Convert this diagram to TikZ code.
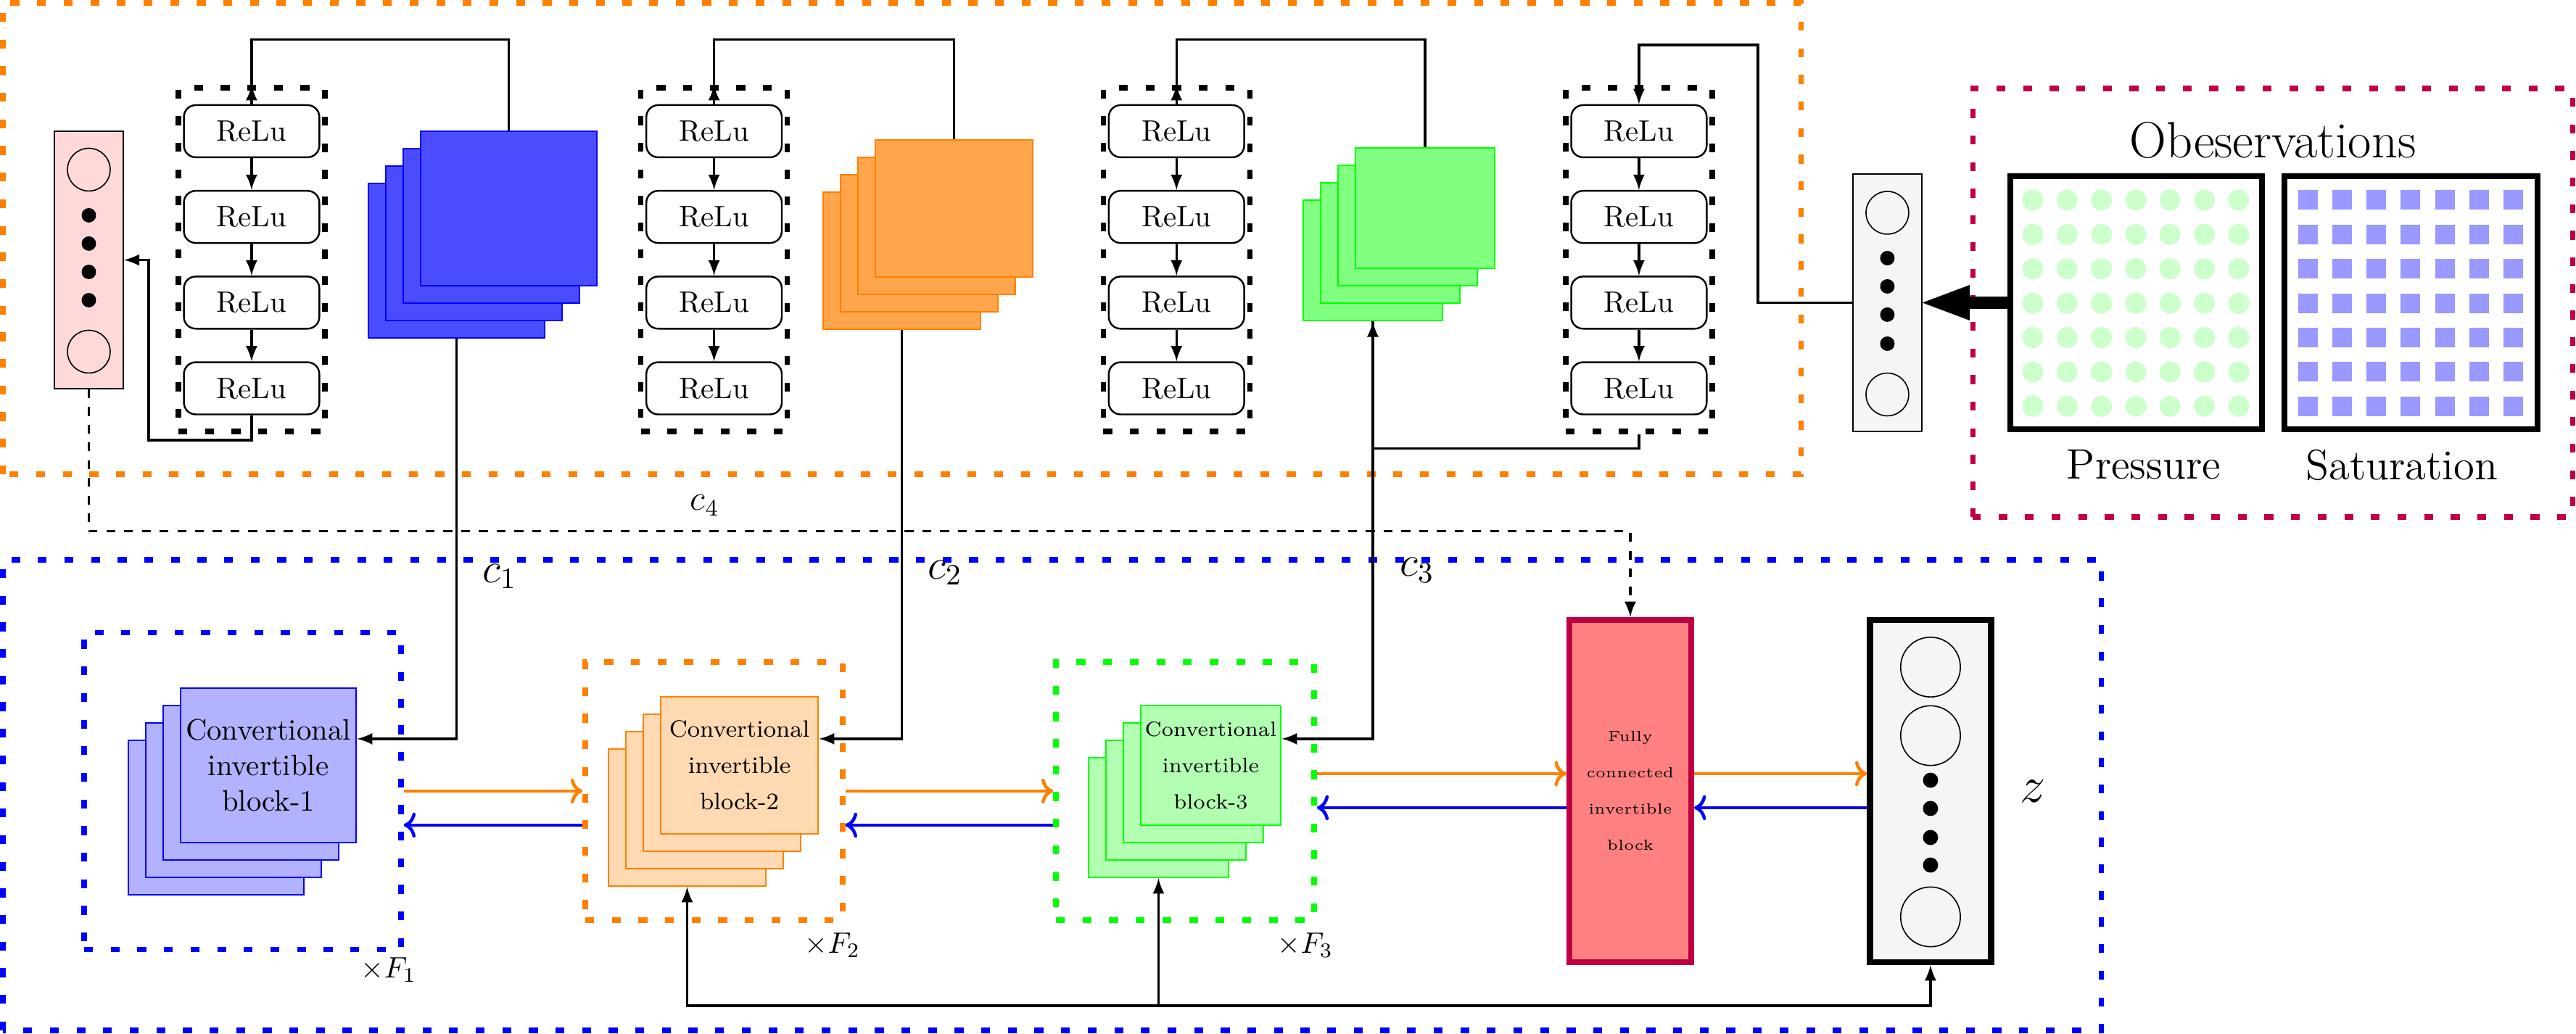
\documentclass[tikz,border=0pt]{standalone}
\usepackage{amsmath}
\usetikzlibrary{arrows.meta}

\begin{document}
\begin{tikzpicture}
[relu/.style={draw,semithick,rounded corners=4pt,minimum width=1.61cm,minimum height=0.62cm,inner sep=0pt},
dotbox/.style={draw,line width=1.8pt,dash pattern=on 3pt off 6pt,inner sep=0pt},
sheet/.style={draw,semithick,inner sep=0pt},
vecbox/.style={draw,minimum width=0.819cm,minimum height=3.06cm,inner sep=0pt},
bigbox/.style={draw,line width=2pt,inner sep=0pt},
flow/.style={->,line width=1.1pt},
wire/.style={thick}]
\useasboundingbox (0,0) rectangle (30.621,12.293);
\draw[dotbox,orange] (0.035,6.655) rectangle (21.41,12.259);
\draw[dotbox,purple] (23.45,6.146) rectangle (30.58,11.241);
\draw[dotbox,blue] (0.035,0.043) rectangle (24.98,5.638);
\node[vecbox,fill=red!15] (xout) at (1.056,9.202) {};
\node[vecbox,fill=black!4] (xin) at (22.435,8.694) {};
\foreach \y in {10.276,8.112} \draw (1.056,\y) circle (0.254);
\foreach \y in {9.733,9.397,9.060,8.724} \fill (1.056,\y) circle (0.086);
\foreach \y in {9.763,7.603} \draw (22.435,\y) circle (0.254);
\foreach \y in {9.224,8.888,8.552,8.207} \fill (22.435,\y) circle (0.086);
\foreach \c/\x in {1/2.991,2/8.488,3/13.985,4/19.482} {
\node[dotbox,minimum width=1.741cm,minimum height=4.086cm] (box\c) at (\x,9.207) {};
\foreach \i/\y in {1/10.733,2/9.714,3/8.695,4/7.676}
\node[relu] (r\c\i) at (\x,\y) {ReLu};
\foreach \i/\j in {1/2,2/3,3/4}
\draw[thick,-latex] (r\c\i) -- (r\c\j);
}
\foreach \nm/\x/\y/\w/\h/\cl/\tn in {bt/6.048/9.815/2.095/1.836/blue/70,ot/11.34/9.815/1.871/1.629/orange/70,gt/16.94/9.818/1.655/1.431/green/50,bb/3.19/3.194/2.086/1.836/blue/30,ob/8.789/3.194/1.871/1.629/orange/30,gb/14.392/3.194/1.664/1.422/green/30}
\foreach \k in {3,2,1,0}
\node[sheet,draw=\cl,fill=\cl!\tn,minimum width=\w cm,minimum height=\h cm] (\nm\k) at ({\x-0.207*\k},{\y-0.207*\k}) {};
\node[align=center] (t1) at (bb0) {Convertional\\invertible\\block-1};
\node[font=\footnotesize,align=center] (t2) at (ob0) {Convertional\\[2.75pt]invertible\\[2.75pt]block-2};
\node[font=\scriptsize,align=center] (t3) at (gb0) {Convertional\\[4.25pt]invertible\\[4.25pt]block-3};
\node[dotbox,blue,minimum width=3.767cm,minimum height=3.767cm] (bbox1) at (2.884,2.888) {};
\node[dotbox,orange,minimum width=3.06cm,minimum height=3.069cm] (bbox2) at (8.487,2.888) {};
\node[dotbox,green,minimum width=3.069cm,minimum height=3.069cm] (bbox3) at (14.087,2.888) {};
\node[bigbox,draw=purple,fill=red!50,minimum width=1.448cm,minimum height=4.069cm,font=\tiny,align=center] (fc) at (19.379,2.888) {Fully\\[6.25pt]connected\\[6.25pt]invertible\\[6.25pt]block};
\node[bigbox,fill=black!4,minimum width=1.44cm,minimum height=4.07cm] (zcol) at (22.948,2.888) {};
\foreach \y in {4.362,3.547,1.392} \draw (22.948,\y) circle (0.355);
\foreach \y in {3.017,2.681,2.336,2.008} \fill (22.948,\y) circle (0.09);
\node[font=\LARGE] (zl) at (24.164,2.888) {$z$};
\node (f1) at (4.621,0.759) {$\times F_1$};
\node (f2) at (9.897,1.052) {$\times F_2$};
\node (f3) at (15.517,1.052) {$\times F_3$};
\node[font=\Large] (c1) at (5.94,5.44) {$c_1$};
\node[font=\Large] (c2) at (11.233,5.483) {$c_2$};
\node[font=\Large] (c3) at (16.845,5.517) {$c_3$};
\node[font=\large] (c4) at (8.379,6.284) {$c_4$};
\node[bigbox,minimum width=2.991cm,minimum height=3.008cm] (pres) at (25.392,8.694) {};
\node[bigbox,minimum width=3.009cm,minimum height=3.008cm] (sat) at (28.66,8.694) {};
\foreach \i in {0,...,6} \foreach \j in {0,...,6} {
\fill[green!20] ({24.164+0.4078*\i},{9.914-0.4086*\j}) circle (0.125);
\fill[blue!40] ({27.315+0.4075*\i},{9.798-0.4086*\j}) rectangle ++(0.233,0.233);
}
\node[font=\LARGE] (obs) at (27.017,10.621) {Obeservations};
\node[font=\Large] (pl) at (25.483,6.767) {Pressure};
\node[font=\Large] (sl) at (28.552,6.767) {Saturation};
\draw[line width=4.2pt,-{Stealth[length=16pt,width=12pt,inset=0pt,line width=0pt]}] (pres.west) -- (xin.east);
\foreach \c/\s in {1/bt0,2/ot0,3/gt0} {
\draw[wire,-latex] (r\c1.north) -- (box\c.north);
\draw[wire] (box\c.north) -- ++(0,0.543) -| (\s.north);
}
\coordinate (k4) at (20.897,11.759);
\draw[wire,-latex] (xin.west) -| (k4) -| (r41.north);
\draw[wire,-latex] (box4.south) -- ++(0,-0.17) -| (gt3.south);
\coordinate (k1) at (1.767,7.06);
\draw[wire,-latex] (r14.south) |- (k1) |- (xout.east);
\draw[wire,-latex] (bt3.south) |- ([yshift=0.315cm]bb0.east);
\draw[wire,-latex] (ot3.south) |- ([yshift=0.315cm]ob0.east);
\draw[wire,-latex] (gt3.south) |- ([yshift=0.315cm]gb0.east);
\draw[thick,dashed,-latex] (xout.south) -- ++(0,-1.689) -| (fc.north);
\coordinate (k5) at (13.771,0.336);
\draw[wire,latex-latex] (ob3.south) |- (k5) -| (zcol.south);
\draw[wire,-latex] (k5) -- (gb3.south);
\draw[flow,orange] (bbox1.east) -- (bbox2.west);
\draw[flow,blue] ([yshift=-0.405cm]bbox2.west) -- ([yshift=-0.405cm]bbox1.east);
\draw[flow,orange] (bbox2.east) -- (bbox3.west);
\draw[flow,blue] ([yshift=-0.405cm]bbox3.west) -- ([yshift=-0.405cm]bbox2.east);
\draw[flow,orange] ([yshift=0.207cm]bbox3.east) -- ([yshift=0.207cm]fc.west);
\draw[flow,blue] ([yshift=-0.198cm]fc.west) -- ([yshift=-0.198cm]bbox3.east);
\draw[flow,orange] ([yshift=0.207cm]fc.east) -- ([yshift=0.207cm]zcol.west);
\draw[flow,blue] ([yshift=-0.198cm]zcol.west) -- ([yshift=-0.198cm]fc.east);
\end{tikzpicture}
\end{document}
